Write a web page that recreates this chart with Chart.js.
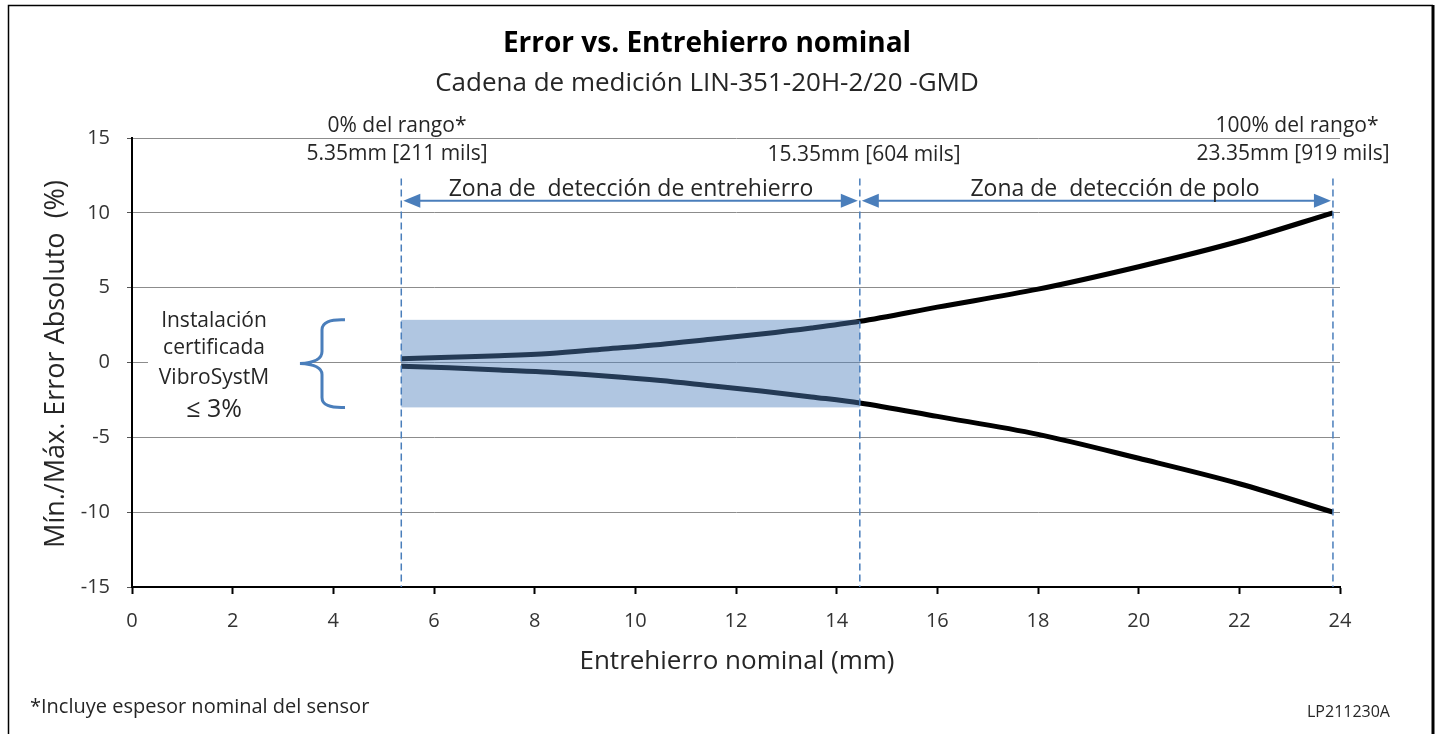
<!DOCTYPE html>
<html lang="es">
<head>
<meta charset="UTF-8">
<title>Error vs. Entrehierro nominal</title>
<script src="https://cdn.jsdelivr.net/npm/chart.js"></script>
<style>
  body { margin: 0; background: #fff; }
  canvas { display: block; }
</style>
</head>
<body>
<canvas id="gapChart" width="1439" height="734"></canvas>
<script>
// Entrehierro nominal (mm) vs min / max absolute error (%)
const gapMm  = [5.35, 6.3, 7.3, 8.3, 9.4, 10.5, 11.5, 12.5, 13.5, 14.46, 16, 18, 20, 22, 23.86];
const maxErr = [0.25, 0.35, 0.45, 0.6, 0.9, 1.2, 1.55, 1.9, 2.3, 2.75, 3.7, 4.9, 6.4, 8.1, 10];
const minErr = [-0.25, -0.35, -0.5, -0.65, -0.9, -1.2, -1.55, -1.9, -2.3, -2.7, -3.6, -4.8, -6.4, -8.1, -10];

// zone limits (mm) and certified band (%)
const zoneMm = [5.35, 14.46, 23.86];
const zoneNames = ['Zona de  detección de entrehierro', 'Zona de  detección de polo'];
const bandErr = [-3, 2.85];

const FONT = '"Open Sans", Lato, sans-serif';
const BLUE = '#4a7ebb';

function text(ctx, str, x, y, size, opts) {
  opts = opts || {};
  ctx.save();
  ctx.font = (opts.bold ? 'bold ' : '') + size + 'px ' + FONT;
  ctx.fillStyle = opts.color || '#262626';
  ctx.textAlign = opts.align || 'center';
  ctx.textBaseline = 'alphabetic';
  ctx.fillText(str, x, y);
  ctx.restore();
}

function arrowHead(ctx, x, y, dir) {
  ctx.beginPath();
  ctx.moveTo(x, y);
  ctx.lineTo(x - dir * 17, y - 7);
  ctx.lineTo(x - dir * 17, y + 7);
  ctx.closePath();
  ctx.fill();
}

const decor = {
  id: 'decor',
  beforeDraw(chart) {
    const ctx = chart.ctx;
    ctx.save();
    ctx.fillStyle = '#fff';
    ctx.fillRect(0, 0, chart.width, chart.height);
    ctx.strokeStyle = '#000';
    ctx.lineWidth = 1.5;
    ctx.beginPath();
    ctx.moveTo(8.5, 734);
    ctx.lineTo(8.5, 5.5);
    ctx.lineTo(1433, 5.5);
    ctx.stroke();
    ctx.lineWidth = 3;
    ctx.beginPath();
    ctx.moveTo(1433, 5);
    ctx.lineTo(1433, 734);
    ctx.stroke();
    ctx.restore();
  },
  beforeDatasetsDraw(chart) {
    const ctx = chart.ctx;
    const y = chart.scales.y;
    ctx.save();
    // label box hides the grid
    ctx.fillStyle = '#fff';
    ctx.fillRect(148, 300, 152, 125);

    const top = y.getPixelForValue(bandErr[1]);
    const bot = y.getPixelForValue(bandErr[0]);
    const mid = y.getPixelForValue(0);
    ctx.strokeStyle = BLUE;
    ctx.lineWidth = 3;
    ctx.beginPath();
    ctx.moveTo(345, top);
    ctx.quadraticCurveTo(322, top - 1, 322, top + 10);
    ctx.lineTo(322, mid - 11);
    ctx.quadraticCurveTo(322, mid, 300, mid + 1);
    ctx.quadraticCurveTo(322, mid + 2, 322, mid + 12);
    ctx.lineTo(322, bot - 10);
    ctx.quadraticCurveTo(322, bot + 1, 345, bot);
    ctx.stroke();
    ctx.restore();

    text(ctx, 'Instalación', 214, 327, 21);
    text(ctx, 'certificada', 214, 354, 21);
    text(ctx, 'VibroSystM', 214, 384, 21);
    text(ctx, '≤ 3%', 214, 417, 25);
  },
  afterDatasetsDraw(chart) {
    const ctx = chart.ctx;
    const x = chart.scales.x, y = chart.scales.y;
    const x0 = x.getPixelForValue(zoneMm[0]);
    const x1 = x.getPixelForValue(zoneMm[1]);
    const yt = y.getPixelForValue(bandErr[1]);
    const yb = y.getPixelForValue(bandErr[0]);
    ctx.save();
    ctx.fillStyle = 'rgba(79,129,189,0.45)';
    ctx.fillRect(x0, yt, x1 - x0, yb - yt);
    ctx.restore();
  },
  afterDraw(chart) {
    const ctx = chart.ctx;
    const x = chart.scales.x, y = chart.scales.y;
    const px = zoneMm.map(v => x.getPixelForValue(v));

    // zone limits
    ctx.save();
    ctx.strokeStyle = BLUE;
    ctx.lineWidth = 1.5;
    ctx.setLineDash([7, 4]);
    px.forEach(p => {
      ctx.beginPath();
      ctx.moveTo(p, y.getPixelForValue(12.3));
      ctx.lineTo(p, y.bottom);
      ctx.stroke();
    });
    ctx.setLineDash([]);

    // zone arrows
    const ay = y.getPixelForValue(10.8);
    ctx.lineWidth = 2;
    ctx.fillStyle = BLUE;
    for (let i = 0; i < 2; i++) {
      const a = px[i] + 2, b = px[i + 1] - 2;
      ctx.beginPath();
      ctx.moveTo(a + 10, ay);
      ctx.lineTo(b - 10, ay);
      ctx.stroke();
      arrowHead(ctx, a, ay, -1);
      arrowHead(ctx, b, ay, 1);
    }
    ctx.restore();

    text(ctx, zoneNames[0], 631, 196, 23);
    text(ctx, zoneNames[1], 1115, 196, 23);

    // range labels
    text(ctx, '0% del rango*', 397, 132, 21);
    text(ctx, '5.35mm [211 mils]', 397, 160, 21);
    text(ctx, '15.35mm [604 mils]', 864, 161, 21);
    text(ctx, '100% del rango*', 1297, 132, 21);
    text(ctx, '23.35mm [919 mils]', 1293, 160, 21);

    // titles
    text(ctx, 'Error vs. Entrehierro nominal', 707, 52, 28, { bold: true, color: '#000' });
    text(ctx, 'Cadena de medición LIN-351-20H-2/20 -GMD', 707, 91, 26);
    text(ctx, 'Entrehierro nominal (mm)', 737, 669, 26);

    ctx.save();
    ctx.translate(64, 364);
    ctx.rotate(-Math.PI / 2);
    text(ctx, 'Mín./Máx. Error Absoluto  (%)', 0, 0, 27);
    ctx.restore();

    text(ctx, '*Incluye espesor nominal del sensor', 30, 713, 20, { align: 'left' });
    text(ctx, 'LP211230A', 1307, 717, 16, { align: 'left' });
  }
};

const ctx = document.getElementById('gapChart').getContext('2d');
const chart = new Chart(ctx, {
  type: 'scatter',
  data: {
    datasets: [
      {
        label: 'Máx.',
        data: gapMm.map((v, i) => ({ x: v, y: maxErr[i] })),
        showLine: true,
        borderColor: '#000',
        borderWidth: 5,
        pointRadius: 0,
        cubicInterpolationMode: 'monotone'
      },
      {
        label: 'Mín.',
        data: gapMm.map((v, i) => ({ x: v, y: minErr[i] })),
        showLine: true,
        borderColor: '#000',
        borderWidth: 5,
        pointRadius: 0,
        cubicInterpolationMode: 'monotone'
      }
    ]
  },
  options: {
    responsive: false,
    animation: false,
    layout: { padding: { top: 138, right: 99, left: 0, bottom: 0 } },
    plugins: { legend: { display: false }, tooltip: { enabled: false } },
    scales: {
      x: {
        type: 'linear',
        min: 0,
        max: 24,
        ticks: { stepSize: 2, color: '#333', font: { family: FONT, size: 20 }, padding: 15, maxRotation: 0 },
        grid: { drawOnChartArea: false, tickLength: 7, tickColor: '#000', tickWidth: 2 },
        border: { color: '#000', width: 2 },
        afterFit: s => { s.height = 147; }
      },
      y: {
        min: -15,
        max: 15,
        ticks: { stepSize: 5, color: '#333', font: { family: FONT, size: 20 }, padding: 17 },
        grid: { color: '#8c8c8c', lineWidth: 1, tickLength: 5, tickColor: '#555' },
        border: { color: '#000', width: 2 },
        afterFit: s => { s.width = 132; }
      }
    }
  },
  plugins: [decor]
});
</script>
</body>
</html>
